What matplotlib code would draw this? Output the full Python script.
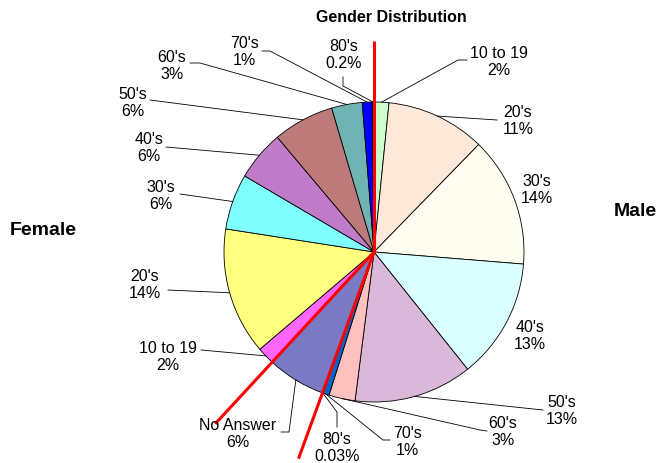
import numpy as np
import matplotlib
matplotlib.use('Agg')
import matplotlib.pyplot as plt

plt.rcParams['font.family'] = ['Liberation Sans', 'DejaVu Sans']

# slices clockwise from 12 o'clock: male ages, no answer, female ages
groups = ['10 to 19', "20's", "30's", "40's", "50's", "60's", "70's", "80's",
          'No Answer',
          '10 to 19', "20's", "30's", "40's", "50's", "60's", "70's", "80's"]
shares = [1.6, 10.7, 14.0, 13.0, 12.75, 2.83, 0.7, 0.03,
          6.3,
          1.9, 13.7, 6.0, 5.4, 6.6, 3.3, 1.05, 0.2]
pct_labels = ['2%', '11%', '14%', '13%', '13%', '3%', '1%', '0.03%',
              '6%',
              '2%', '14%', '6%', '6%', '6%', '3%', '1%', '0.2%']
colors = ['#ccffcc', '#fde8da', '#fffcf0', '#d9ffff', '#d9b8d9', '#ffc0c0', '#0066cc', '#000080',
          '#7a7ac4',
          '#ff66ff', '#ffff80', '#80ffff', '#c07cc8', '#bd7a7a', '#6fb3b3', '#0000ff', '#000080']

# label centres and leader-line elbows (image pixels, y down); None = no leader
label_pos = [(499, 62), (518, 121), (537, 190), (530, 336), (562, 411), (503, 432), (407, 442), (337, 448),
             (238, 434),
             (168, 357), (145, 285), (161, 196), (149, 148), (133, 103), (172, 66), (244, 52), (344, 55)]
leaders = [[(467, 61), (458, 61)], [(497, 121)], None, None, [(543, 411)], [(487, 432), (480, 431)],
           [(390, 441), (383, 441)], [(337, 428), (337, 413)],
           [(281, 433), (289, 433)],
           [(201, 351)], [(168, 291)], [(180, 195)], [(166, 148)], [(150, 101)],
           [(190, 64), (200, 64)], [(262, 52), (270, 52)], [(343, 78), (343, 87)]]
# red separators: male | no answer | female, as (slice index before boundary, length px)
separators = [(-1, 211), (7, 220), (8, 234)]

cx, cy, r = 374, 253, 150

fig = plt.figure(figsize=(6.6, 4.64), dpi=100)
ax = fig.add_axes([0, 0, 1, 1])
ax.pie(shares, colors=colors, startangle=-90, counterclock=True, center=(cx, cy), radius=r,
       wedgeprops=dict(edgecolor='black', linewidth=0.6))
ax.set_xlim(0, 660)
ax.set_ylim(464, 0)
ax.set_aspect('equal')
ax.axis('off')

frac = np.array(shares) / sum(shares)
cum = np.concatenate([[0], np.cumsum(frac)]) * 360

def edge_point(phi, rad=r):
    t = np.radians(phi)
    return cx + rad * np.sin(t), cy - rad * np.cos(t)

for i, (g, p) in enumerate(zip(groups, pct_labels)):
    x, y = label_pos[i]
    ax.text(x, y, f'{g}\n{p}', ha='center', va='center', fontsize=11.5, linespacing=1.2)
    if leaders[i] is not None:
        mid = (cum[i] + cum[i + 1]) / 2
        pts = leaders[i] + [edge_point(mid)]
        ax.plot([q[0] for q in pts], [q[1] for q in pts], color='black', lw=0.6)

for idx, length in separators:
    phi = cum[idx + 1]
    ex, ey = edge_point(phi, length)
    ax.plot([cx, ex], [cy, ey], color='red', lw=2.2, solid_capstyle='butt')

ax.text(391.5, 18, 'Gender Distribution', ha='center', va='center', fontsize=11.5, fontweight='bold')
ax.text(43.5, 231, 'Female', ha='center', va='center', fontsize=14, fontweight='bold')
ax.text(635, 212, 'Male', ha='center', va='center', fontsize=14, fontweight='bold')

fig.savefig('out.png', dpi=100)
